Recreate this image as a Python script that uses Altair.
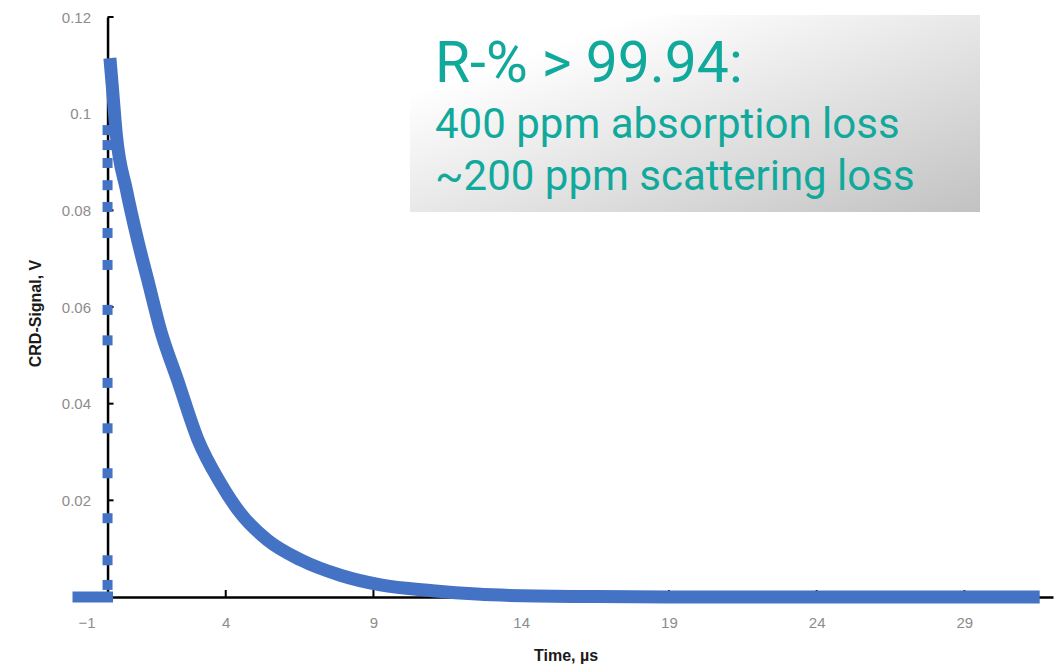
import altair as alt
import pandas as pd

# ---------------- data ----------------
# pre-trigger baseline (µs, V)
pre_t = [-1.0, -0.5, 0.0]
pre_v = [0.0, 0.0, 0.0]

# samples on the rising edge (all at t ~ 0)
rise_v = [0.0966, 0.0935, 0.0898, 0.0852, 0.0807, 0.0753, 0.0687, 0.0594,
          0.0531, 0.0443, 0.0349, 0.0256, 0.0163, 0.0076, 0.0025]
rise_t = [0.0] * len(rise_v)

# ring-down decay and tail
decay_t = [0.08, 0.17, 0.30, 0.64, 1.02, 1.39, 1.79, 2.37, 3.05, 3.82, 4.49,
           5.41, 6.53, 7.88, 9.24, 11.0, 12.5, 14.5, 16.5, 19.0, 22.0, 25.0,
           28.0, 31.55]
decay_v = [0.1115, 0.1050, 0.0955, 0.0842, 0.0738, 0.0649, 0.0553, 0.0449,
           0.0327, 0.0236, 0.0174, 0.0118, 0.0077, 0.0045, 0.0025, 0.0013,
           0.0006, 0.0002, 0.0001, 0.0, 0.0, 0.0, 0.0, 0.0]

x_ticks = [-1, 4, 9, 14, 19, 24, 29]
y_ticks = [0.02, 0.04, 0.06, 0.08, 0.1, 0.12]

annotation_lines = ["R-% > 99.94:", "400 ppm absorption loss", "~200 ppm scattering loss"]

# ---------------- layout ----------------
W, H = 975, 580
X_MIN, X_MAX = -1, 32
PX_PER_US = W / (X_MAX - X_MIN)
BLUE = "#4472C4"
TEAL = "#11A99C"
LABEL_FONT = "Liberation Sans"

pre_df = pd.DataFrame({"t": pre_t, "v": pre_v})
rise_df = pd.DataFrame({"t": rise_t, "v": rise_v})
decay_df = pd.DataFrame({"t": decay_t, "v": decay_v})
xt_df = pd.DataFrame({"t": x_ticks[1:]})
yt_df = pd.DataFrame({"v": y_ticks})

x_scale = alt.Scale(domain=[X_MIN, X_MAX], nice=False, zero=False)
y_scale = alt.Scale(domain=[0, 0.12], nice=False)

x_enc = alt.X("t:Q", scale=x_scale, axis=alt.Axis(
    values=x_ticks, title="Time, µs", grid=False, ticks=False,
    domainColor="black", domainWidth=2.5, labelColor="#8c8c8c",
    labelFont=LABEL_FONT, labelFontSize=15, labelPadding=18,
    titleFont=LABEL_FONT, titleFontSize=16, titleFontWeight="bold",
    titleColor="#1a1a1a", titleY=58, titleBaseline="middle"))
y_enc = alt.Y("v:Q", scale=y_scale, axis=alt.Axis(
    values=y_ticks, format="~g", title="CRD-Signal, V", grid=False,
    ticks=False, domainColor="black", domainWidth=2.5,
    offset=-PX_PER_US, labelColor="#8c8c8c", labelFont=LABEL_FONT,
    labelFontSize=15, labelPadding=17, titleFont=LABEL_FONT,
    titleFontSize=16, titleFontWeight="bold", titleColor="#1a1a1a",
    titleX=-72, titleY=296, titleBaseline="middle"))

box = alt.Chart(pd.DataFrame({"a": [0]})).mark_rect(
    fill=alt.Gradient(
        gradient="linear",
        stops=[alt.GradientStop(color="#ffffff", offset=0.2),
               alt.GradientStop(color="#c2c2c2", offset=1)],
        x1=0, y1=0, x2=1, y2=1),
).encode(x=alt.value(410 - 78), x2=alt.value(980 - 78),
         y=alt.value(15 - 17), y2=alt.value(212 - 17))

txt1 = alt.Chart(pd.DataFrame({"s": [annotation_lines[0]]})).mark_text(
    align="left", baseline="alphabetic", font="Roboto", fontSize=57, color=TEAL
).encode(x=alt.value(435 - 78), y=alt.value(82 - 17), text="s:N")
txt2 = alt.Chart(pd.DataFrame({"s": [annotation_lines[1]]})).mark_text(
    align="left", baseline="alphabetic", font="Roboto", fontSize=42, color=TEAL
).encode(x=alt.value(435 - 78), y=alt.value(138 - 17), text="s:N")
txt3 = alt.Chart(pd.DataFrame({"s": [annotation_lines[2]]})).mark_text(
    align="left", baseline="alphabetic", font="Roboto", fontSize=42, color=TEAL
).encode(x=alt.value(435 - 78), y=alt.value(190 - 17), text="s:N")

xticks = alt.Chart(xt_df).mark_rule(color="black", strokeWidth=2).encode(
    x=alt.X("t:Q", scale=x_scale), y=alt.Y(datum=0, scale=y_scale),
    y2=alt.value(H - 7))
yticks = alt.Chart(yt_df).mark_rule(color="black", strokeWidth=2).encode(
    y=alt.Y("v:Q", scale=y_scale), x=alt.X(datum=0, scale=x_scale),
    x2=alt.value(PX_PER_US + 6))

pre_line = alt.Chart(pre_df).mark_line(
    color=BLUE, strokeWidth=11, strokeCap="square").encode(x=x_enc, y=y_enc)
decay_line = alt.Chart(decay_df).mark_line(
    color=BLUE, strokeWidth=13, strokeJoin="round", strokeCap="butt",
    interpolate="monotone").encode(x=x_enc, y=y_enc)
rise_pts = alt.Chart(rise_df).mark_square(
    color=BLUE, size=100, opacity=1).encode(x=x_enc, y=y_enc)

chart = alt.layer(
    xticks, yticks, pre_line, decay_line, rise_pts, box, txt1, txt2, txt3
).properties(
    width=W, height=H,
    autosize=alt.AutoSizeParams(type="none"),
    padding={"left": 78, "top": 17, "right": 9, "bottom": 69},
    background="white",
).configure_view(stroke=None)

chart.save("out.html", embed_options={"renderer": "svg", "actions": False})
